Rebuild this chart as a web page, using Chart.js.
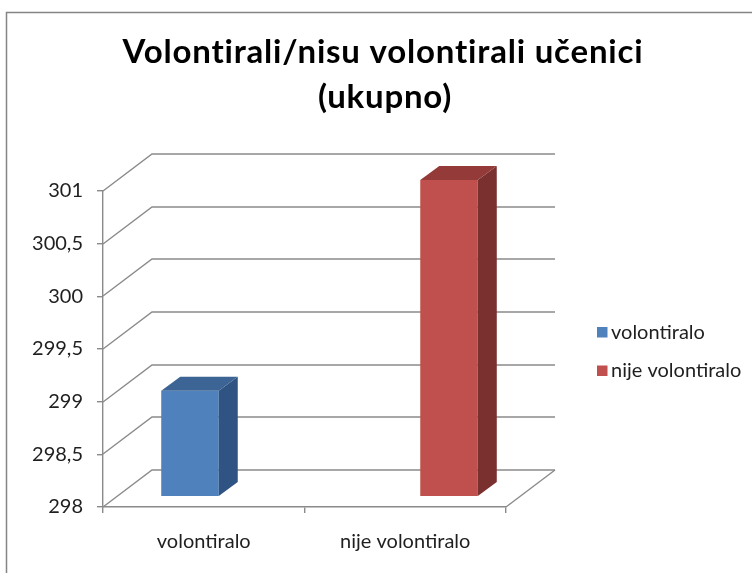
<!DOCTYPE html>
<html>
<head>
<meta charset="utf-8">
<script src="https://cdn.jsdelivr.net/npm/chart.js@4.4.1/dist/chart.umd.min.js"></script>
<style>
  html, body { margin: 0; padding: 0; background: #fff; }
  #wrap { position: relative; width: 752px; height: 573px; }
</style>
</head>
<body>
<div id="wrap"><canvas id="c" width="752" height="573"></canvas></div>
<script>
const categories = ['volontiralo', 'nije volontiralo'];
const seriesNames = ['volontiralo', 'nije volontiralo'];
const volontiraloValues = [299, null];
const nijeVolontiraloValues = [null, 301];
const yTickLabels = ['298', '298,5', '299', '299,5', '300', '300,5', '301'];
const titleLines = ['Volontirali/nisu volontirali učenici', '(ukupno)'];

const frontColors = ['#4F81BD', '#C0504D'];
const topColors = ['#3C6494', '#943B39'];
const sideColors = ['#2F5382', '#7A302F'];

// 3D depth vectors
const WALL_DX = 49, WALL_DY = -37;
const BAR_FX = 15, BAR_FY = -11;
const BAR_SX = 19, BAR_SY = -14;
const GRID = '#8a8a8a';
const TEXT = '#1f1f1f';

const font = 'Lato, Calibri, "Open Sans", sans-serif';

const threeD = {
  id: 'threeD',
  beforeDraw(chart) {
    const ctx = chart.ctx;
    ctx.save();
    ctx.strokeStyle = '#858585';
    ctx.lineWidth = 1.5;
    ctx.strokeRect(6.5, 12.5, 900, 700);
    ctx.restore();
  },
  beforeDatasetsDraw(chart) {
    const ctx = chart.ctx;
    const {left, right, bottom} = chart.chartArea;
    const ys = chart.scales.y;
    ctx.save();
    ctx.strokeStyle = GRID;
    ctx.lineWidth = 1.4;
    ys.ticks.forEach(t => {
      const y = Math.round(ys.getPixelForValue(t.value));
      ctx.beginPath();
      ctx.moveTo(left, y);
      ctx.lineTo(left + WALL_DX, y + WALL_DY);
      ctx.lineTo(right + WALL_DX, y + WALL_DY);
      ctx.stroke();
    });
    ctx.beginPath();
    ctx.moveTo(right, bottom);
    ctx.lineTo(right + WALL_DX, bottom + WALL_DY);
    ctx.stroke();
    ctx.restore();
    ctx.save();
    ctx.translate(BAR_FX, BAR_FY);
  },
  afterDatasetsDraw(chart) {
    const ctx = chart.ctx;
    ctx.restore();
    ctx.save();
    const area = chart.chartArea;
    chart.data.datasets.forEach((ds, di) => {
      const meta = chart.getDatasetMeta(di);
      meta.data.forEach((el, i) => {
        if (ds.data[i] === null || ds.data[i] === undefined) return;
        const p = el.getProps(['x', 'y', 'base', 'width'], true);
        const l = p.x - p.width / 2 + BAR_FX;
        const r = p.x + p.width / 2 + BAR_FX;
        const t = Math.max(p.y, area.top) + BAR_FY;
        const b = Math.min(p.base, area.bottom) + BAR_FY;
        ctx.fillStyle = sideColors[di];
        ctx.beginPath();
        ctx.moveTo(r, t);
        ctx.lineTo(r + BAR_SX, t + BAR_SY);
        ctx.lineTo(r + BAR_SX, b + BAR_SY);
        ctx.lineTo(r, b);
        ctx.closePath();
        ctx.fill();
        ctx.fillStyle = topColors[di];
        ctx.beginPath();
        ctx.moveTo(l, t);
        ctx.lineTo(l + BAR_SX, t + BAR_SY);
        ctx.lineTo(r + BAR_SX, t + BAR_SY);
        ctx.lineTo(r, t);
        ctx.closePath();
        ctx.fill();
      });
    });
    ctx.restore();
  },
  afterDraw(chart) {
    const ctx = chart.ctx;
    // title
    ctx.save();
    ctx.fillStyle = '#000';
    ctx.font = 'bold 33px ' + font;
    ctx.textAlign = 'center';
    ctx.textBaseline = 'alphabetic';
    if ('letterSpacing' in ctx) ctx.letterSpacing = '0.8px';
    ctx.fillText(titleLines[0], 383, 63);
    ctx.fillText(titleLines[1], 385, 108);
    ctx.restore();
    // legend
    ctx.save();
    ctx.font = '20px ' + font;
    ctx.textBaseline = 'middle';
    ctx.textAlign = 'left';
    chart.data.datasets.forEach((ds, di) => {
      const cy = 332.5 + di * 38.5;
      ctx.fillStyle = frontColors[di];
      ctx.fillRect(597, cy - 5.5, 10.5, 10.5);
      ctx.fillStyle = TEXT;
      ctx.fillText(ds.label, 611, cy);
    });
    ctx.restore();
  }
};

new Chart(document.getElementById('c'), {
  type: 'bar',
  data: {
    labels: categories,
    datasets: [
      { label: seriesNames[0], data: volontiraloValues, backgroundColor: frontColors[0], borderWidth: 0 },
      { label: seriesNames[1], data: nijeVolontiraloValues, backgroundColor: frontColors[1], borderWidth: 0 }
    ]
  },
  options: {
    responsive: false,
    animation: false,
    devicePixelRatio: 1,
    categoryPercentage: 0.571,
    barPercentage: 1.0,
    layout: { padding: { left: 0, right: 246, top: 191, bottom: 0 } },
    plugins: {
      legend: { display: false },
      tooltip: { enabled: false },
      title: { display: false }
    },
    scales: {
      x: {
        grid: { display: true, drawOnChartArea: false, drawTicks: true, tickLength: 6, color: GRID, lineWidth: 1.4, offset: true },
        border: { display: true, color: GRID, width: 1.4 },
        ticks: { color: TEXT, font: { family: font, size: 20 }, padding: 17, maxRotation: 0 },
        afterFit(s) { s.height = 66; }
      },
      y: {
        min: 298, max: 301,
        ticks: {
          stepSize: 0.5,
          color: TEXT,
          font: { family: font, size: 20 },
          padding: 14,
          callback: (v, i) => yTickLabels[i]
        },
        grid: { display: true, drawOnChartArea: false, drawTicks: true, tickLength: 6, color: GRID, lineWidth: 1.4 },
        border: { display: true, color: GRID, width: 1.4 },
        afterFit(s) { s.width = 103; }
      }
    }
  },
  plugins: [threeD]
});
</script>
</body>
</html>
